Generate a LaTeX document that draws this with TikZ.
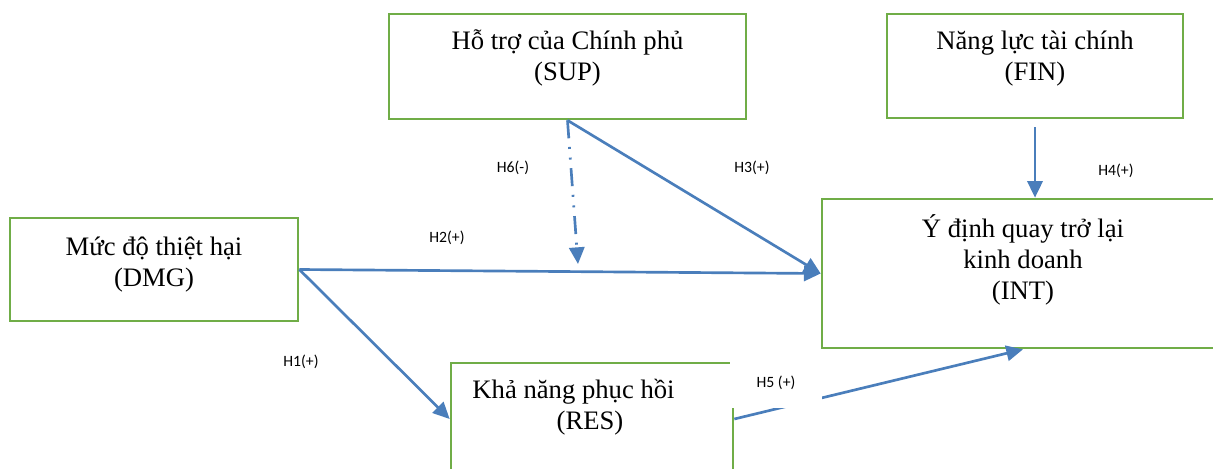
\documentclass[tikz,border=0pt]{standalone}
\usepackage{fontspec}
\setmainfont{Liberation Serif}
\newfontfamily\labelfont{Carlito}
\usetikzlibrary{arrows.meta}
\definecolor{boxgreen}{RGB}{112,173,71}
\definecolor{linkblue}{RGB}{74,126,187}
\begin{document}
\begin{tikzpicture}[x=0.75pt,y=-0.75pt,
  factor/.style={draw=boxgreen, line width=2pt, rectangle, inner sep=0pt},
  caption/.style={font=\fontsize{20}{23.25}\selectfont, inner sep=0pt, anchor=base},
  link/.style={draw=linkblue, line width=2pt, -{Triangle[length=12.5pt,width=11.5pt]}},
  hyp/.style={font=\labelfont\fontsize{11.8}{14}\selectfont, inner sep=1pt}]
\useasboundingbox (0,0) rectangle (1213,468);

% construct boxes
\node[factor, minimum width=267.75pt, minimum height=78.75pt] (sup) at (567.5,66.5) {};
\node[factor, minimum width=222pt, minimum height=78pt] (fin) at (1035,66) {};
\node[factor, minimum width=301.5pt, minimum height=111.75pt] (int) at (1023,273.5) {};
\node[factor, minimum width=216pt, minimum height=77.25pt] (dmg) at (154,269.5) {};
\node[factor, minimum width=211.5pt, minimum height=84pt] (res) at (592,419) {};

% box captions
\node[caption] (suptxt) at (567.5,49) {\begin{tabular}[t]{@{}c@{}}Hỗ trợ của Chính phủ\\(SUP)\end{tabular}};
\node[caption] (fintxt) at (1035,49) {\begin{tabular}[t]{@{}c@{}}Năng lực tài chính\\(FIN)\end{tabular}};
\node[caption] (dmgtxt) at (154,255) {\begin{tabular}[t]{@{}c@{}}Mức độ thiệt hại\\(DMG)\end{tabular}};
\node[caption] (inttxt) at (1023,237) {\begin{tabular}[t]{@{}c@{}}Ý định quay trở lại\\kinh doanh\\(INT)\end{tabular}};
\node[caption] (restxt) at (590,398) {\begin{tabular}[t]{@{}c@{}}Khả năng phục hồi\hspace*{24.75pt}\\(RES)\end{tabular}};

% hypothesised paths
\coordinate (h6end) at (578,264);
\draw[link] (dmg.east) -- (int.west);
\draw[link] (dmg.east) -- (res.west);
\draw[link] (sup.south) -- (int.west);
\draw[link, dash pattern=on 13.5pt off 6.5pt on 1.5pt off 6.5pt on 1.5pt off 6.5pt]
  (sup.south) -- (h6end);
\draw[link, shorten <=6pt] (fin.south) -- (fin.south |- int.north);
\draw[link] (res.east) -- (int.south);

% path labels
\node[hyp] (h6) at (513,168) {H6(-)};
\node[hyp] (h3) at (752,168) {H3(+)};
\node[hyp] (h4) at (1116,171) {H4(+)};
\node[hyp] (h2) at (447,238) {H2(+)};
\node[hyp] (h1) at (301,362) {H1(+)};
\node[hyp, fill=white, minimum width=69pt, minimum height=37.5pt] (h5) at (776,383) {H5 (+)};
\end{tikzpicture}
\end{document}
